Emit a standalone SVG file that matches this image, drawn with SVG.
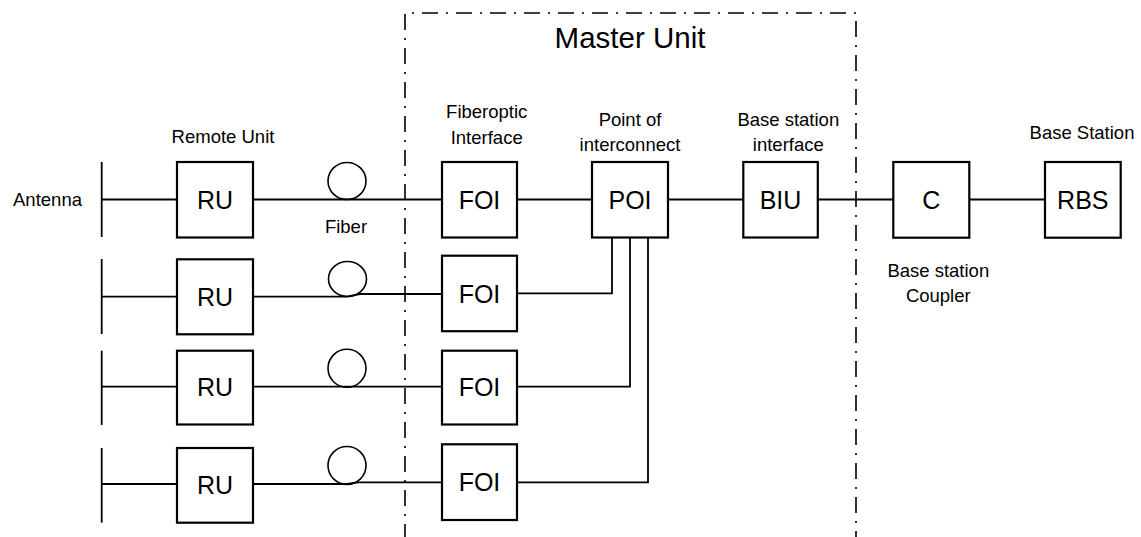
<svg xmlns="http://www.w3.org/2000/svg" width="1141" height="537" viewBox="0 0 1141 537">
<style>
.bg{fill:#fff}
.box{fill:#fff;stroke:#000;stroke-width:2.2}
.ln{fill:none;stroke:#000;stroke-width:1.8}
.fib{fill:none;stroke:#000;stroke-width:1.6}
.frame{fill:none;stroke:#000;stroke-width:1.6;stroke-dasharray:16 8 2 8}
.lbl{font-family:"Liberation Sans",Arial,sans-serif;font-size:18.5px;fill:#000;text-anchor:middle}
.bl{font-family:"Liberation Sans",Arial,sans-serif;font-size:25px;fill:#000;text-anchor:middle}
.title{font-family:"Liberation Sans",Arial,sans-serif;font-size:29.5px;fill:#000;text-anchor:middle}
</style>
<rect class="bg" x="0" y="0" width="1141" height="537"/>
<g id="master-unit">
<path class="frame" d="M405,540 V13 H856 V540"/>
<text class="title" x="630" y="48">Master Unit</text>
</g>
<g id="connectors">
<!-- row 1 -->
<line class="ln" x1="101.7" y1="162" x2="101.7" y2="237"/>
<line class="ln" x1="101.7" y1="199.5" x2="177" y2="199.5"/>
<line class="ln" x1="253" y1="199.5" x2="442" y2="199.5"/>
<line class="ln" x1="517" y1="199.5" x2="592" y2="199.5"/>
<line class="ln" x1="668" y1="199.5" x2="743" y2="199.5"/>
<line class="ln" x1="818" y1="199.5" x2="893" y2="199.5"/>
<line class="ln" x1="969" y1="199.5" x2="1045" y2="199.5"/>
<!-- row 2 -->
<line class="ln" x1="101.7" y1="259" x2="101.7" y2="334"/>
<line class="ln" x1="101.7" y1="296.7" x2="177" y2="296.7"/>
<path class="ln" d="M253,296.7 H347 L360,294 H442"/>
<path class="ln" d="M517,293.3 H612 V237"/>
<!-- row 3 -->
<line class="ln" x1="101.7" y1="350.7" x2="101.7" y2="425"/>
<line class="ln" x1="101.7" y1="386.7" x2="177" y2="386.7"/>
<line class="ln" x1="253" y1="386.7" x2="442" y2="386.7"/>
<path class="ln" d="M517,386.7 H630 V237"/>
<!-- row 4 -->
<line class="ln" x1="101.7" y1="448" x2="101.7" y2="522.7"/>
<line class="ln" x1="101.7" y1="484" x2="177" y2="484"/>
<path class="ln" d="M253,484 H347 L358,482.3 H442"/>
<path class="ln" d="M517,482.3 H648 V237"/>
</g>
<g id="fibers">
<ellipse class="fib" cx="347" cy="181" rx="19" ry="18.5"/>
<ellipse class="fib" cx="347.5" cy="279" rx="19" ry="17.5"/>
<ellipse class="fib" cx="347" cy="368.3" rx="19" ry="19"/>
<ellipse class="fib" cx="347" cy="465.5" rx="19" ry="19"/>
<text class="lbl" x="346" y="233">Fiber</text>
</g>
<g id="antenna">
<text class="lbl" x="47.5" y="206">Antenna</text>
</g>
<g id="ru1"><rect class="box" x="177" y="162" width="76" height="75.5"/><text class="bl" x="215" y="208.5">RU</text></g>
<g id="ru2"><rect class="box" x="177" y="259.3" width="76" height="75"/><text class="bl" x="215" y="305.5">RU</text></g>
<g id="ru3"><rect class="box" x="177" y="350.7" width="76" height="73.8"/><text class="bl" x="215" y="396">RU</text></g>
<g id="ru4"><rect class="box" x="177" y="448" width="76" height="74.7"/><text class="bl" x="215" y="494">RU</text></g>
<g id="remote-unit-label"><text class="lbl" x="223" y="142.5">Remote Unit</text></g>
<g id="foi1"><rect class="box" x="442" y="162" width="75" height="75.5"/><text class="bl" x="479.5" y="208.5">FOI</text></g>
<g id="foi2"><rect class="box" x="442" y="255.7" width="75" height="75.5"/><text class="bl" x="479.5" y="302.5">FOI</text></g>
<g id="foi3"><rect class="box" x="442" y="350.7" width="75" height="73.8"/><text class="bl" x="479.5" y="396">FOI</text></g>
<g id="foi4"><rect class="box" x="442" y="444.3" width="75" height="75.7"/><text class="bl" x="479.5" y="491">FOI</text></g>
<g id="foi-label"><text class="lbl" x="486.7" y="118">Fiberoptic</text><text class="lbl" x="486.7" y="144">Interface</text></g>
<g id="poi"><rect class="box" x="592" y="162" width="76" height="75.5"/><text class="bl" x="630" y="208.5">POI</text></g>
<g id="poi-label"><text class="lbl" x="630" y="126">Point of</text><text class="lbl" x="630" y="150.5">interconnect</text></g>
<g id="biu"><rect class="box" x="743.3" y="162" width="74.5" height="75.5"/><text class="bl" x="780.5" y="208.5">BIU</text></g>
<g id="biu-label"><text class="lbl" x="788.3" y="126">Base station</text><text class="lbl" x="788.3" y="150.5">interface</text></g>
<g id="coupler"><rect class="box" x="893.3" y="162" width="76" height="75.7"/><text class="bl" x="931.3" y="208.5">C</text></g>
<g id="coupler-label"><text class="lbl" x="938.3" y="276.5">Base station</text><text class="lbl" x="938.3" y="301.5">Coupler</text></g>
<g id="rbs"><rect class="box" x="1045" y="162" width="75.7" height="75.7"/><text class="bl" x="1082.8" y="208.5">RBS</text></g>
<g id="rbs-label"><text class="lbl" x="1082" y="139">Base Station</text></g>
</svg>
